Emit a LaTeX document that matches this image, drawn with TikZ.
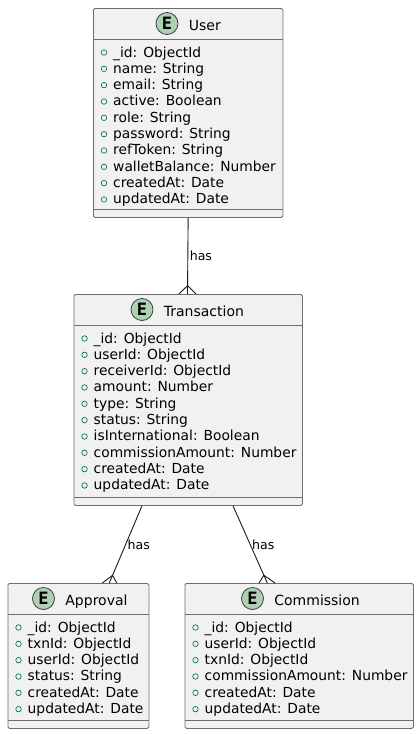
\documentclass[tikz,border=0pt]{standalone}
\usepackage{fontspec}
\setmainfont{DejaVu Sans}
\newfontfamily\badgefont[BoldFont={DejaVu Sans Mono Bold}]{DejaVu Sans Mono}
\usetikzlibrary{calc}
\definecolor{boxfill}{HTML}{F1F1F1}
\definecolor{boxline}{HTML}{6E6E6E}
\definecolor{badgefill}{HTML}{ADD1B2}
\definecolor{attrdot}{HTML}{038048}
\tikzset{
	entitybox/.style={draw=boxline,fill=boxfill,line width=0.8pt,rounded corners=1.5pt,anchor=north west,inner sep=0pt},
	sepline/.style={draw=boxline,line width=0.8pt},
	badge/.style={shape=circle,draw=black!75,fill=badgefill,line width=0.8pt,minimum size=22pt,inner sep=0pt,font=\badgefont\fontsize{17}{17}\selectfont\bfseries},
	titletext/.style={anchor=base west,inner sep=0pt,font=\fontsize{14}{14}\selectfont},
	attrtext/.style={anchor=base west,inner sep=0pt,font=\fontsize{13.83}{14}\selectfont},
	attrbullet/.style={shape=circle,draw=attrdot,line width=0.7pt,minimum size=5.5pt,inner sep=0pt},
	relation/.style={draw=black!90,line width=0.9pt},
	haslabel/.style={right,inner sep=1.5pt,font=\fontsize{12.6}{13}\selectfont},
}
% name, title, badge offset, top left, width/height, rows
\newcommand{\entity}[7]{
	\node[entitybox,minimum width=#5,minimum height=#6] (#1) at (#4) {};
	\node[badge] (#1badge) at ([xshift=#3,yshift=-15.5pt]#1.north west) {E};
	\node[titletext] (#1title) at ([xshift=21.7pt,yshift=-6.5pt]#1badge.center) {#2};
	\draw[sepline] ([yshift=-31.5pt]#1.north west) -- ([yshift=-31.5pt]#1.north east);
	\draw[sepline] ([yshift=8pt]#1.south west) -- ([yshift=8pt]#1.south east);
	\foreach \row [count=\i] in {#7} {
		\node[attrbullet] (#1dot\i) at ([xshift=11pt,yshift={-44.5pt-16.33pt*(\i-1)}]#1.north west) {};
		\node[attrtext] (#1attr\i) at ([xshift=20pt,yshift={-49pt-16.33pt*(\i-1)}]#1.north west) {\row};
	}
}
% source anchor, target, middle/left/right foot offsets
\newcommand{\relate}[5]{
	\coordinate (#2foot) at ([xshift=#3]#2.north west);
	\draw[relation] (#1) -- node[haslabel] {has} (#2foot);
	\coordinate (#2apex) at ($(#2foot)!8.4pt!(#1)$);
	\draw[relation] ([xshift=#4]#2.north west) -- (#2apex) -- ([xshift=#5]#2.north west);
}

\begin{document}
\begin{tikzpicture}[x=1pt,y=-1pt]
	\useasboundingbox (0,0) rectangle (419,734);

	\entity{user}{User}{74pt}{93,8}{189.5pt}{209pt}{\_id: ObjectId,name: String,email: String,active: Boolean,role: String,password: String,refToken: String,walletBalance: Number,createdAt: Date,updatedAt: Date}
	\entity{transaction}{Transaction}{68.5pt}{73.5,294}{228.5pt}{211pt}{\_id: ObjectId,userId: ObjectId,receiverId: ObjectId,amount: Number,type: String,status: String,isInternational: Boolean,commissionAmount: Number,createdAt: Date,updatedAt: Date}
	\entity{approval}{Approval}{36pt}{7.5,583}{141pt}{145pt}{\_id: ObjectId,txnId: ObjectId,userId: ObjectId,status: String,createdAt: Date,updatedAt: Date}
	\entity{commission}{Commission}{68pt}{184.5,583}{228.5pt}{145pt}{\_id: ObjectId,userId: ObjectId,txnId: ObjectId,commissionAmount: Number,createdAt: Date,updatedAt: Date}

	\relate{user.south}{transaction}{114pt}{105.5pt}{122.5pt}
	\relate{[xshift=68.5pt]transaction.south west}{approval}{101.8pt}{94.8pt}{109.2pt}
	\relate{[xshift=159.5pt]transaction.south west}{commission}{82.8pt}{74.5pt}{90.5pt}
\end{tikzpicture}
\end{document}
